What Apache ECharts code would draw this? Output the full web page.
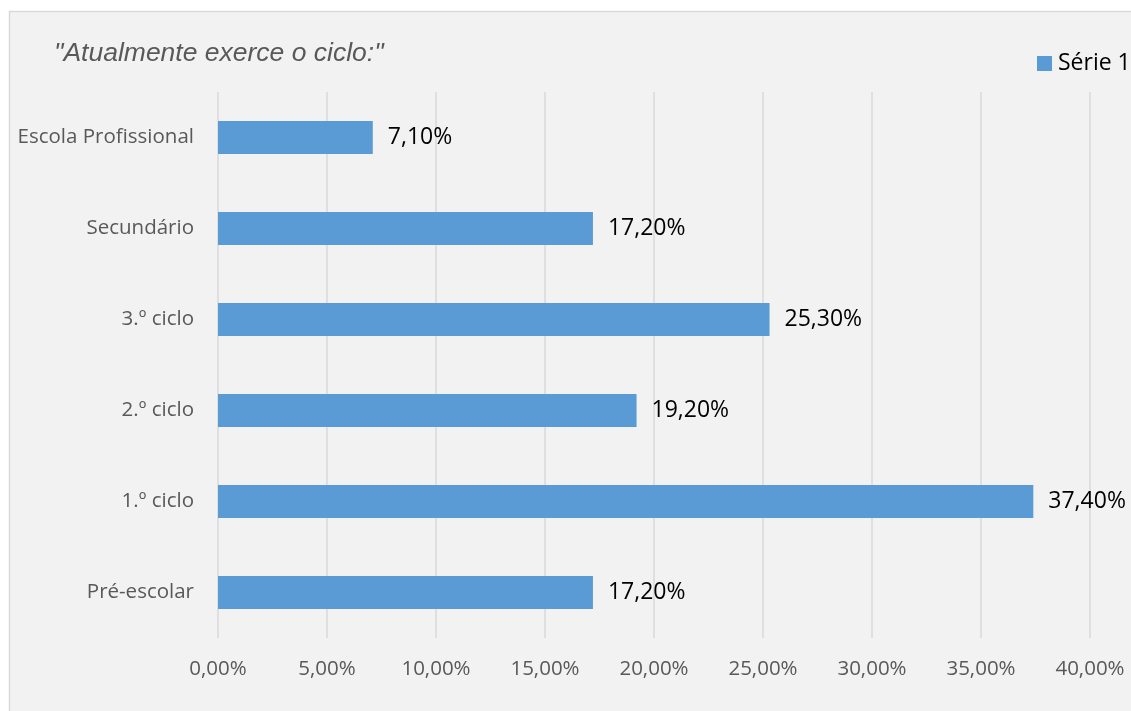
<!DOCTYPE html>
<html>
<head>
<meta charset="utf-8">
<script src="https://cdn.jsdelivr.net/npm/echarts@6/dist/echarts.min.js"></script>
<style>
html,body{margin:0;padding:0;background:#ffffff;}
#chart{width:1131px;height:711px;}
</style>
</head>
<body>
<div id="chart"></div>
<script>
var categories = ['Pré-escolar', '1.º ciclo', '2.º ciclo', '3.º ciclo', 'Secundário', 'Escola Profissional'];
var seriesName = 'Série 1';
var values = [17.2, 37.4, 19.2, 25.3, 17.2, 7.1];
var titleText = '"Atualmente exerce o ciclo:"';

function pct(v) { return v.toFixed(2).replace('.', ',') + '%'; }

var chart = echarts.init(document.getElementById('chart'));
chart.setOption({
  backgroundColor: '#ffffff',
  animation: false,
  graphic: [{
    type: 'rect', z: -10, silent: true,
    shape: { x: 9.5, y: 11.5, width: 1140, height: 720 },
    style: { fill: '#f2f2f2', stroke: '#d9d9d9', lineWidth: 1.5 }
  }],
  title: {
    text: titleText,
    left: 54, top: 40, padding: 0,
    textStyle: { fontFamily: 'Liberation Sans', fontStyle: 'italic', fontWeight: 'normal', fontSize: 26.5, color: '#595959' }
  },
  legend: {
    data: [seriesName],
    left: 1037, top: 52, padding: 0,
    itemWidth: 15, itemHeight: 15, itemGap: 6,
    icon: 'rect',
    textStyle: { fontFamily: 'Open Sans', fontSize: 23, color: '#000000', padding: [0, 0, 0, 1] }
  },
  grid: { left: 218, right: 41, top: 92, bottom: 73, containLabel: false },
  xAxis: {
    type: 'value', min: 0, max: 40, interval: 5,
    axisLine: { show: false }, axisTick: { show: false },
    splitLine: { show: true, lineStyle: { color: '#d9d9d9', width: 1.5 } },
    axisLabel: { formatter: function (v) { return pct(v); }, margin: 21, fontFamily: 'Open Sans', fontSize: 20.5, color: '#595959' }
  },
  yAxis: {
    type: 'category', data: categories,
    axisLine: { show: false }, axisTick: { show: false },
    axisLabel: { margin: 24, fontFamily: 'Open Sans', fontSize: 20.5, color: '#595959' }
  },
  series: [{
    name: seriesName, type: 'bar', data: values, barWidth: 33,
    itemStyle: { color: '#5b9bd5' },
    label: { show: true, position: 'right', distance: 15, formatter: function (p) { return pct(p.value); },
      fontFamily: 'Open Sans', fontSize: 23, color: '#000000' }
  }]
});
</script>
</body>
</html>
